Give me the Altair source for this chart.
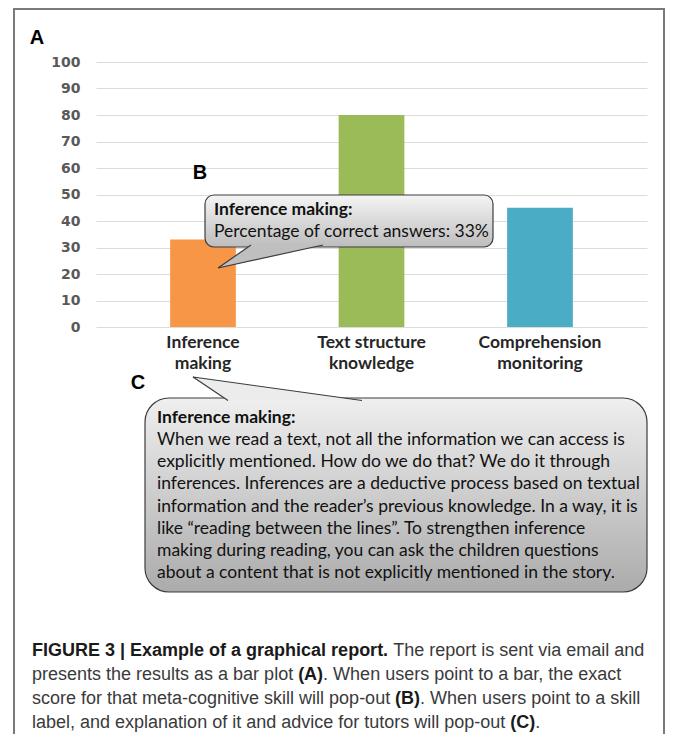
import altair as alt
import pandas as pd

# ---------------- data ----------------
categories = ["Inference\nmaking", "Text structure\nknowledge", "Comprehension\nmonitoring"]
scores = [33, 80, 45]
bar_colors = ["#F79646", "#9BBB59", "#4BACC6"]
y_ticks = [0, 10, 20, 30, 40, 50, 60, 70, 80, 90, 100]

panel_letters = ["A", "B", "C"]
popup_b_title = "Inference making:"
popup_b_body = "Percentage of correct answers: 33%"
popup_c_title = "Inference making:"
popup_c_body = [
    "When we read a text, not all the information we can access is",
    "explicitly mentioned. How do we do that? We do it through",
    "inferences. Inferences are a deductive process based on textual",
    "information and the reader\u2019s previous knowledge. In a way, it is",
    "like \u201creading between the lines\u201d. To strengthen inference",
    "making during reading, you can ask the children questions",
    "about a content that is not explicitly mentioned in the story.",
]
caption_runs = [
    [("FIGURE 3 | Example of a graphical report.", True), (" The report is sent via email and", False)],
    [("presents the results as a bar plot ", False), ("(A)", True), (". When users point to a bar, the exact", False)],
    [("score for that meta-cognitive skill will pop-out ", False), ("(B)", True), (". When users point to a skill", False)],
    [("label, and explanation of it and advice for tutors will pop-out ", False), ("(C)", True), (".", False)],
]

# ---------------- layout helpers ----------------
OX, OY = 96, 62          # page position of the plot-area origin
PLOT_W, PLOT_H = 551, 265


def X(v):
    return v - OX


def Y(v):
    return v - OY


# Liberation Sans (Arial-metric) advance widths, used to chain caption runs
_REG = dict(zip("ABCDEFGHIJKLMNOPQRSTUVWXYZ",
                [667, 667, 722, 722, 667, 611, 778, 722, 278, 500, 667, 556, 833, 722, 778, 667, 778, 722, 667, 611, 722, 667, 944, 667, 667, 611]))
_REG.update(dict(zip("abcdefghijklmnopqrstuvwxyz",
                     [556, 556, 500, 556, 556, 278, 556, 556, 222, 222, 500, 222, 833, 556, 556, 556, 556, 333, 500, 278, 556, 500, 722, 500, 500, 500])))
_REG.update({" ": 278, ".": 278, ",": 278, "(": 333, ")": 333, "-": 333, "|": 260})
_BOLD = dict(zip("ABCDEFGHIJKLMNOPQRSTUVWXYZ",
                 [722, 722, 722, 722, 667, 611, 778, 722, 278, 556, 722, 611, 833, 722, 778, 667, 778, 722, 667, 611, 722, 667, 944, 667, 667, 611]))
_BOLD.update(dict(zip("abcdefghijklmnopqrstuvwxyz",
                      [556, 611, 556, 611, 556, 333, 611, 611, 278, 278, 556, 278, 889, 611, 611, 611, 611, 389, 556, 333, 611, 556, 778, 556, 556, 500])))
_BOLD.update({" ": 278, ".": 278, ",": 278, "(": 333, ")": 333, "-": 333, "|": 280})


def text_width(s, bold, size):
    table = _BOLD if bold else _REG
    return sum(table.get(ch, 556) for ch in s) * size / 1000.0


CAP_SIZE = 18
CAP_X0 = 32
CAP_Y0 = 655.5
CAP_DY = 24

cap_rows = []
for i, runs in enumerate(caption_runs):
    x = CAP_X0
    for txt, bold in runs:
        lead = txt[: len(txt) - len(txt.lstrip(" "))]
        start = x + text_width(lead, bold, CAP_SIZE)
        cap_rows.append({"px": X(start), "py": Y(CAP_Y0 + i * CAP_DY), "t": txt.strip(" "), "bold": bold})
        x += text_width(txt, bold, CAP_SIZE)
cap_df = pd.DataFrame(cap_rows)

one = pd.DataFrame({"k": [0]})

PX = alt.X("px:Q", scale=None, axis=None)
PY = alt.Y("py:Q", scale=None, axis=None)


def text_layer(df, **kw):
    return alt.Chart(df).mark_text(**kw).encode(x=PX, y=PY, text="t:N")


# ---------------- frame ----------------
frame = alt.Chart(one).mark_rect(fillOpacity=0, stroke="#7a7a7a", strokeWidth=2).encode(
    x=alt.value(X(14)), x2=alt.value(X(664)), y=alt.value(Y(9)), y2=alt.value(Y(900))
)

# ---------------- bars ----------------
bar_df = pd.DataFrame({"skill": categories, "score": scores, "color": bar_colors})
bars = alt.Chart(bar_df).mark_bar().encode(
    x=alt.X(
        "skill:N",
        sort=categories,
        scale=alt.Scale(paddingInner=0.61, paddingOuter=0.44),
        axis=alt.Axis(
            title=None, labelAngle=0, labelExpr="split(datum.label, '\\n')",
            labelFont="Lato", labelFontWeight="bold", labelFontSize=17.5,
            labelColor="#262626", labelLineHeight=21, labelPadding=6,
            ticks=False, domain=False, grid=False,
        ),
    ),
    y=alt.Y(
        "score:Q",
        scale=alt.Scale(domain=[0, 100], nice=False),
        axis=alt.Axis(
            title=None, values=y_ticks, labelFont="DejaVu Sans", labelFontWeight="bold",
            labelFontSize=14, labelColor="#595959", labelPadding=16,
            ticks=False, domain=False, grid=True, gridColor="#dcdcdc", gridWidth=1,
        ),
    ),
    color=alt.Color("color:N", scale=None),
)

POP_FONT = "Lato"
POP_SIZE = 17.5

# ---------------- pop-up B ----------------
grad_b = alt.LinearGradient(
    gradient="linear",
    stops=[alt.GradientStop(color="#f5f5f5", offset=0), alt.GradientStop(color="#bdbdbd", offset=1)],
    x1=0, x2=0, y1=0, y2=1,
)
box_b = alt.Chart(one).mark_rect(cornerRadius=9, fill=grad_b, stroke="#3c3c3c", strokeWidth=1.2).encode(
    x=alt.value(X(205)), x2=alt.value(X(493)), y=alt.value(Y(195)), y2=alt.value(Y(247))
)
tail_b_df = pd.DataFrame({"px": [X(251), X(218), X(323)], "py": [Y(245), Y(268), Y(245)], "o": [0, 1, 2]})
tail_b = alt.Chart(tail_b_df).mark_line(fill="#bfbfbf", stroke="#3c3c3c", strokeWidth=1.2).encode(
    x=PX, y=PY, order="o:Q"
)
b_text = pd.DataFrame({"px": [X(214), X(214)], "py": [Y(210), Y(232)], "t": [popup_b_title, popup_b_body]})
b_title = text_layer(b_text.iloc[[0]], align="left", baseline="middle", font=POP_FONT, fontSize=POP_SIZE,
                     fontWeight="bold", color="#111111")
b_body = text_layer(b_text.iloc[[1]], align="left", baseline="middle", font=POP_FONT, fontSize=POP_SIZE,
                    color="#111111")

# ---------------- pop-up C ----------------
grad_c = alt.LinearGradient(
    gradient="linear",
    stops=[alt.GradientStop(color="#efefef", offset=0), alt.GradientStop(color="#ababab", offset=1)],
    x1=0, x2=0, y1=0, y2=1,
)
box_c = alt.Chart(one).mark_rect(cornerRadius=24, fill=grad_c, stroke="#3c3c3c", strokeWidth=1.2).encode(
    x=alt.value(X(145)), x2=alt.value(X(647)), y=alt.value(Y(398)), y2=alt.value(Y(592))
)
tail_c_df = pd.DataFrame({"px": [X(228), X(193), X(362)], "py": [Y(400.5), Y(377), Y(400.5)], "o": [0, 1, 2]})
tail_c = alt.Chart(tail_c_df).mark_line(fill="#ececec", stroke="#3c3c3c", strokeWidth=1.2).encode(
    x=PX, y=PY, order="o:Q"
)
c_title_df = pd.DataFrame({"px": [X(157)], "py": [Y(418)], "t": [popup_c_title]})
c_body_df = pd.DataFrame({
    "px": [X(157)] * len(popup_c_body),
    "py": [Y(440 + 22.2 * i) for i in range(len(popup_c_body))],
    "t": popup_c_body,
})
c_title = text_layer(c_title_df, align="left", baseline="middle", font=POP_FONT, fontSize=POP_SIZE,
                     fontWeight="bold", color="#111111")
c_body = text_layer(c_body_df, align="left", baseline="middle", font=POP_FONT, fontSize=POP_SIZE,
                    color="#111111")

# ---------------- panel letters ----------------
letters_df = pd.DataFrame({"px": [X(37), X(200), X(138)], "py": [Y(38), Y(173), Y(383)], "t": panel_letters})
letters = text_layer(letters_df, align="center", baseline="middle", font="Liberation Sans",
                     fontSize=20, fontWeight="bold", color="#000000")

# ---------------- caption ----------------
cap_bold = text_layer(cap_df[cap_df["bold"]], align="left", baseline="alphabetic",
                      font="Liberation Sans", fontSize=CAP_SIZE, fontWeight="bold", color="#1a1a1a")
cap_reg = text_layer(cap_df[~cap_df["bold"]], align="left", baseline="alphabetic",
                     font="Liberation Sans", fontSize=CAP_SIZE, color="#3a3a3a")

SVG_W, SVG_H = 657, 726
chart = (
    alt.layer(frame, bars, box_b, tail_b, b_title, b_body, box_c, tail_c, c_title, c_body,
              letters, cap_bold, cap_reg)
    .resolve_scale(x="independent", y="independent")
    .properties(
        width=PLOT_W, height=PLOT_H, autosize="none",
        padding={"left": OX - 8, "top": OY - 8,
                 "right": SVG_W - (OX - 8) - PLOT_W, "bottom": SVG_H - (OY - 8) - PLOT_H},
        background="white",
    )
    .configure_view(stroke=None)
)

chart.save("out.html", embed_options={"renderer": "svg", "actions": False})
